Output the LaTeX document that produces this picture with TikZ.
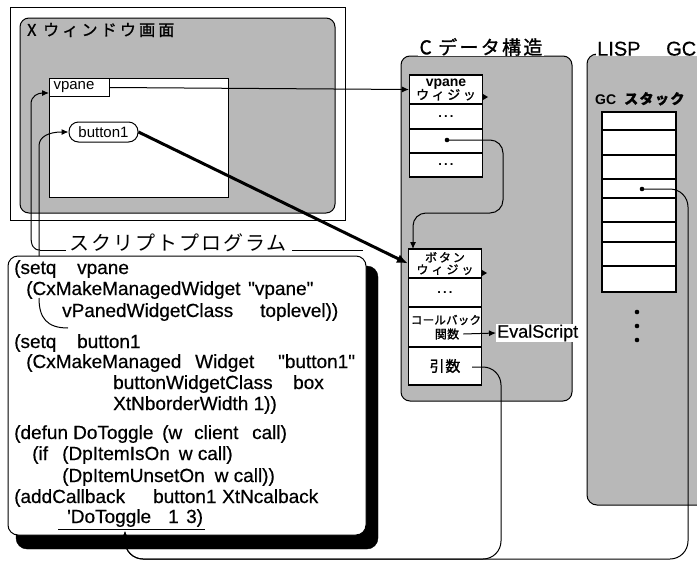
\documentclass[tikz,border=0pt]{standalone}
\usepackage{fontspec}
\setmainfont{Liberation Sans}
\newfontfamily\codefont[FakeBold=0.5]{Liberation Sans}
\newfontfamily\jpreg{Noto Sans CJK JP}
\newfontfamily\jpbold[FakeBold=1.2]{Noto Sans CJK JP}
\newcommand\JPtxt[3]{{\jpbold\fontsize{#1}{#1}\selectfont\addfontfeature{LetterSpace=#2}#3}}
\newcommand\JPreg[3]{{\jpreg\fontsize{#1}{#1}\selectfont\addfontfeature{LetterSpace=#2}#3}}
\newcommand\qq{\char"0022\relax}
\usetikzlibrary{arrows.meta}
\tikzset{
  shaded/.style={fill=black!28},
  frame/.style={draw, line width=1pt},
  cell/.style={draw, fill=white, line width=1.1pt, minimum width=73pt, inner sep=0pt, align=center},
  scell/.style={draw, fill=white, line width=1.1pt, minimum width=74pt, inner sep=0pt},
  code/.style={anchor=base west, inner sep=0pt, font=\codefont\fontsize{19}{21}\selectfont},
  arr/.style={line width=1pt, -{Latex[length=7pt,width=6pt]}},
  dots/.style={font=\fontsize{13}{13}\selectfont\bfseries},
}
\begin{document}
\begin{tikzpicture}[x=1pt,y=-1pt]
\useasboundingbox (0,0) rectangle (697,563);
% ---------- X window ----------
\draw[frame] (10,7) rectangle (345,220);
\draw[frame, shaded, rounded corners=9pt] (20,18) rectangle (335,213);
\node[anchor=west, inner sep=0] (xtitle) at (27,30) {\JPtxt{16}{20}{X ウィンドウ画面}};
\draw[frame, fill=white] (49,78) rectangle (228,197);
\node[draw, line width=1pt, fill=white, anchor=north west, minimum width=60pt, minimum height=18pt, inner sep=0, font=\fontsize{15}{15}\selectfont] (vlabel) at (49,78) {\makebox[52pt][l]{vpane}};
\node[draw, line width=1pt, fill=white, rounded corners=9.5pt, minimum width=69pt, minimum height=20pt, inner sep=0, font=\fontsize{15}{15}\selectfont] (pill) at (103.5,132) {button1};
% ---------- C data structure ----------
\draw[frame, shaded, rounded corners=9pt] (401,56) rectangle (572,401);
\node[fill=white, anchor=south, inner xsep=2pt, inner ysep=0pt] (ctitle) at (481,56) {\JPtxt{19}{12}{C データ構造}};
\node[cell, minimum height=29pt] (cv1) at (446,89.5) {\fontsize{14}{12}\selectfont\bfseries vpane\\[-1pt]\JPtxt{13}{20}{ウィジッ}};
\node[cell, minimum height=25pt, dots] (cv2) at (446,116.5) {.\,.\,.};
\node[cell, minimum height=24pt] (cv3) at (446,141) {};
\node[cell, minimum height=24pt, dots] (cv4) at (446,165) {.\,.\,.};
\fill (483,94) -- (488,97) -- (483,100) -- cycle;
\fill (447,140) circle (2.3pt);
\coordinate (cdot) at (447,140);
\node[cell, minimum height=29pt] (bw) at (445,263.5) {\JPtxt{12}{16}{ボタン}\\[0pt]\JPtxt{12}{25}{ウィジッ}};
\node[cell, minimum height=29pt, dots] (b2) at (445,292.5) {.\,.\,.};
\node[cell, minimum height=40pt] (b3) at (445,327) {};
\node[cell, minimum height=38pt] (b4) at (445,366) {\JPtxt{15}{5}{引数}};
\fill (482,270) -- (487,273) -- (482,276) -- cycle;
\node[inner sep=0] (cbk) at (446,320) {\JPtxt{11.5}{2}{コールバック}};
\node[inner sep=0] (kansu) at (447,334) {\JPtxt{12}{2}{関数}};
\node[fill=white, anchor=west, inner xsep=1pt, inner ysep=1pt, font=\codefont\fontsize{18}{18}\selectfont] (eval) at (496,333) {EvalScript};
\coordinate (argp) at (472,367);
\coordinate (bwtop) at (413,249);
% ---------- LISP GC ----------
\draw[frame, shaded, rounded corners=10pt] (587,54) rectangle (712,505);
\node[fill=white, anchor=south west, inner xsep=1pt, inner ysep=0pt, font=\codefont\fontsize{20}{20}\selectfont] (ltitle) at (596,56) {\makebox[69pt][l]{LISP}GC};
\node[anchor=base west, inner sep=0] (gct) at (595,104) {\fontsize{14}{14}\selectfont\bfseries GC\hspace{8pt}\JPtxt{14}{10}{スタック}};
\node[scell, minimum height=18pt] (s1) at (639,121) {};
\node[scell, minimum height=25pt] (s2) at (639,142.5) {};
\node[scell, minimum height=24pt] (s3) at (639,167) {};
\node[scell, minimum height=19pt] (s4) at (639,188.5) {};
\node[scell, minimum height=24pt] (s5) at (639,210) {};
\node[scell, minimum height=20pt] (s6) at (639,232) {};
\node[scell, minimum height=24pt] (s7) at (639,254) {};
\node[scell, minimum height=26pt] (s8) at (639,279) {};
\fill (642,189) circle (2.3pt);
\coordinate (gdot) at (642,189);
\fill (637,312) circle (2.3pt);
\fill (637,326) circle (2.3pt);
\fill (637,340) circle (2.3pt);
% ---------- Script program ----------
\draw[fill=black, rounded corners=11pt] (16,266) rectangle (378,549);
\draw[frame, fill=white, rounded corners=10pt] (8,256) rectangle (366,535);
\node[inner sep=0] (head) at (178,243) {\JPreg{20}{10}{スクリプトプログラム}};
\coordinate (hl1) at (40,250);
\draw[line width=1pt] (hl1) -- (66,250);
\draw[line width=1pt] (292,250) -- (363,250);
\coordinate (b1top) at (39,256);
\coordinate (b1def) at (68,328);
\coordinate (dtarget) at (125,531);
\node[code] (c1) at (14,274) {\makebox[63pt][l]{(setq}vpane};
\node[code] (c2) at (26,295) {\makebox[222pt][l]{(CxMakeManagedWidget}\qq vpane\qq};
\node[code] (c3) at (62,317) {\makebox[198pt][l]{vPanedWidgetClass}toplevel))};
\node[code] (c4) at (14,348) {\makebox[63pt][l]{(setq}button1};
\node[code] (c5) at (26,368) {\makebox[169pt][l]{(CxMakeManaged}\makebox[83pt][l]{Widget}\qq button1\qq};
\node[code] (c6) at (113,389) {\makebox[180pt][l]{buttonWidgetClass}box};
\node[code] (c7) at (113,410) {XtNborderWidth 1))};
\node[code] (c8) at (14,439) {\makebox[59pt][l]{(defun}\makebox[89pt][l]{DoToggle}\makebox[32pt][l]{(w}\makebox[58pt][l]{client}call)};
\node[code] (c9) at (32,460) {\makebox[30pt][l]{(if}(DpItemIsOn\hspace{9pt}w call)};
\node[code] (c10) at (62,482) {(DpItemUnsetOn\hspace{10pt}w call))};
\node[code] (c11) at (14,503) {\makebox[139pt][l]{(addCallback}\makebox[69pt][l]{button1}XtNcalback};
\node[code] (c12) at (67,523) {\makebox[101pt][l]{\textquotesingle DoToggle}\makebox[18pt][l]{1}3)};
\draw[line width=1pt] (58,529) -- (205,529);
\draw[line width=1pt] (39,298) .. controls (39,318) and (47,328) .. (b1def);
% ---------- connectors ----------
\draw[arr] (hl1) .. controls (33,250) and (31,245) .. (31,236) -- (31,104) .. controls (31,96) and (38,93) .. (49,93);
\draw[arr] (b1top) -- (39,146) .. controls (39,137) and (48,132) .. (pill.west);
\draw[arr] (vlabel.east) -- (cv1.west);
\draw[line width=3pt, -{Latex[length=11pt,width=9pt]}] (pill.east) -- (bw.west);
\draw[arr, rounded corners=13pt] (cdot) -| (503,213) -| (bwtop);
\draw[arr] (kansu.east) ++(4,0) -- (eval.west);
\draw[arr, rounded corners=18pt] (argp) -| (501,559) -| (dtarget);
\draw[arr, rounded corners=18pt] (gdot) -| (688,559) -| (dtarget);
\end{tikzpicture}
\end{document}
